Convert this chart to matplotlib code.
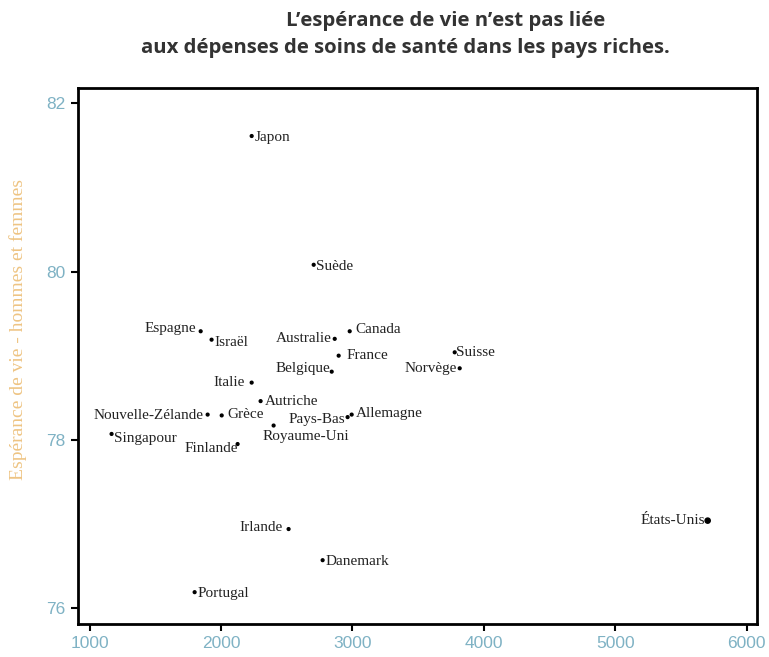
import matplotlib.pyplot as plt

pays = ["Japon", "Suède", "Espagne", "Israël", "Australie", "Canada", "France",
        "Suisse", "Norvège", "Belgique", "Italie", "Autriche", "Grèce",
        "Nouvelle-Zélande", "Pays-Bas", "Allemagne", "Royaume-Uni", "Singapour",
        "Finlande", "Irlande", "Danemark", "Portugal", "États-Unis"]
depenses = [2233, 2705, 1845, 1928, 2865, 2979, 2895,
            3778, 3816, 2842, 2233, 2301, 2005,
            1898, 2963, 2994, 2400, 1167,
            2126, 2514, 2773, 1799, 5703]
esperance = [81.61, 80.08, 79.29, 79.19, 79.20, 79.29, 79.00,
             79.04, 78.85, 78.81, 78.68, 78.46, 78.29,
             78.30, 78.27, 78.30, 78.17, 78.07,
             77.95, 76.94, 76.57, 76.19, 77.04]

# where each label sits relative to its dot: (dx, dy) in points, ha, va
placement = {
    "Japon": (2, -1, "left", "center"),
    "Suède": (2, -1, "left", "center"),
    "Espagne": (-3, 2, "right", "center"),
    "Israël": (2, -2, "left", "center"),
    "Australie": (-2, 0, "right", "center"),
    "Canada": (4, 1, "left", "center"),
    "France": (6, 0, "left", "center"),
    "Suisse": (1, 0, "left", "center"),
    "Norvège": (-2, 0, "right", "center"),
    "Belgique": (-1, 2, "right", "center"),
    "Italie": (-5, 0, "right", "center"),
    "Autriche": (3, 0, "left", "center"),
    "Grèce": (4, 1, "left", "center"),
    "Nouvelle-Zélande": (-3, -1, "right", "center"),
    "Pays-Bas": (-2, -2, "right", "center"),
    "Allemagne": (3, 1, "left", "center"),
    "Royaume-Uni": (-8, -3, "left", "top"),
    "Singapour": (2, -3, "left", "center"),
    "Finlande": (0, -3, "right", "center"),
    "Irlande": (-4, 1, "right", "center"),
    "Danemark": (2, -1, "left", "center"),
    "Portugal": (2, -1, "left", "center"),
    "États-Unis": (-2, 0, "right", "center"),
}

fig = plt.figure(figsize=(7.69, 6.57), dpi=100)
ax = fig.add_axes([0.101, 0.050, 0.883, 0.816])

sizes = [4 if p != "États-Unis" else 14 for p in pays]
ax.scatter(depenses, esperance, s=sizes, color="black", zorder=3)

for p, x, y in zip(pays, depenses, esperance):
    dx, dy, ha, va = placement[p]
    ax.annotate(p, (x, y), xytext=(dx, dy), textcoords="offset points",
                ha=ha, va=va, fontsize=11, family="Liberation Serif",
                color="#222222")

ax.set_xlim(909, 6076)
ax.set_ylim(75.81, 82.18)
ax.set_xticks([1000, 2000, 3000, 4000, 5000, 6000])
ax.set_yticks([76, 78, 80, 82])

for s in ax.spines.values():
    s.set_linewidth(2)
ax.tick_params(direction="out", length=5, width=1.5, colors="black",
               labelcolor="#7fb2c4", labelsize=12.5)
for lab in ax.get_xticklabels() + ax.get_yticklabels():
    lab.set_family("Liberation Sans")

ax.set_ylabel("Espérance de vie - hommes et femmes", color="#eec483",
              fontsize=14, family="Liberation Serif", va="center")
ax.yaxis.set_label_coords(-0.088, 0.55)

fig.text(0.579, 0.968, "L\u2019espérance de vie n\u2019est pas liée",
         ha="center", va="center", fontsize=14.7, fontweight="bold",
         family="Open Sans", color="#333333")
fig.text(0.527, 0.927, "aux dépenses de soins de santé dans les pays riches.",
         ha="center", va="center", fontsize=14.7, fontweight="bold",
         family="Open Sans", color="#333333")

fig.savefig("out.png", dpi=100)
